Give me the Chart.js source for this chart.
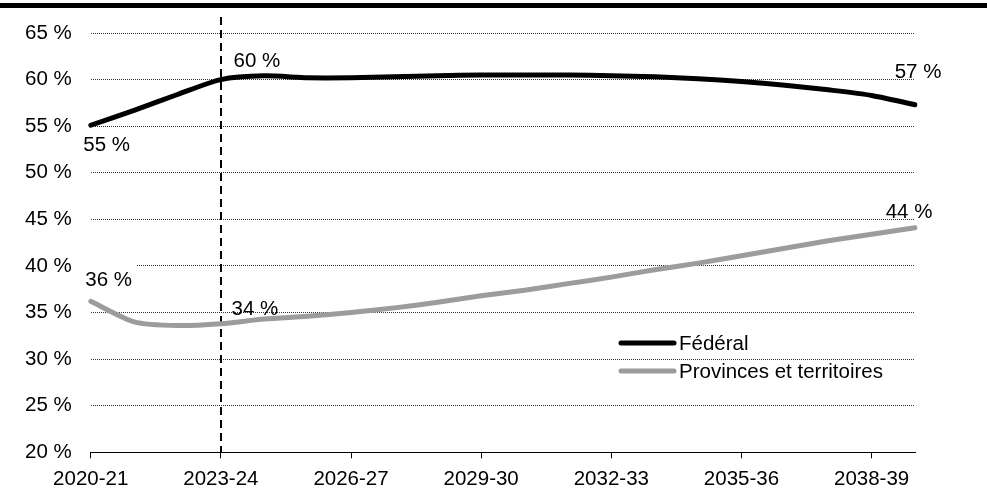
<!DOCTYPE html>
<html>
<head>
<meta charset="utf-8">
<script src="https://cdn.jsdelivr.net/npm/chart.js@4.4.0/dist/chart.umd.min.js"></script>
<style>
  html, body { margin: 0; padding: 0; background: #fff; }
  #wrap { width: 987px; height: 495px; position: relative; }
</style>
</head>
<body>
<div id="wrap"><canvas id="myChart"></canvas></div>
<script>
// Données (en %)
var annees = ["2020-21", "2021-22", "2022-23", "2023-24", "2024-25", "2025-26", "2026-27",
  "2027-28", "2028-29", "2029-30", "2030-31", "2031-32", "2032-33", "2033-34", "2034-35",
  "2035-36", "2036-37", "2037-38", "2038-39", "2039-40"];
var federal = [55.1, 56.7, 58.4, 60.0, 60.4, 60.2, 60.2, 60.3, 60.4, 60.5,
  60.5, 60.5, 60.4, 60.3, 60.1, 59.8, 59.4, 58.9, 58.3, 57.3];
var provinces = [36.2, 34.0, 33.6, 33.8, 34.3, 34.6, 35.0, 35.5, 36.1, 36.8,
  37.4, 38.1, 38.8, 39.6, 40.3, 41.1, 41.9, 42.7, 43.4, 44.1];
var nomsSeries = ["Fédéral", "Provinces et territoires"];
var axeY = { min: 20, max: 65, pas: 5 };
var anneeProjection = "2023-24";

var police = '"Liberation Sans", Arial, sans-serif';
var taille = 20.5;

// Étiquettes de valeurs (série, index) et leur décalage
var etiquettes = [
  { serie: 0, index: 0, dx: 16, dy: 19 },
  { serie: 0, index: 3, dx: 36, dy: -20 },
  { serie: 0, index: 19, dx: 3, dy: -34 },
  { serie: 1, index: 0, dx: 18, dy: -22, fond: true },
  { serie: 1, index: 3, dx: 34, dy: -16 },
  { serie: 1, index: 19, dx: -6, dy: -17 }
];

var decor = {
  id: "decor",
  beforeDraw: function (chart) {
    var ctx = chart.ctx;
    ctx.save();
    ctx.fillStyle = "#000";
    ctx.fillRect(0, 3, chart.width, 5);
    ctx.restore();
  },
  beforeDatasetsDraw: function (chart) {
    var ctx = chart.ctx;
    var x = Math.round(chart.scales.x.getPixelForValue(annees.indexOf(anneeProjection)));
    ctx.save();
    ctx.strokeStyle = "#000";
    ctx.lineWidth = 2;
    ctx.setLineDash([8, 5]);
    ctx.beginPath();
    ctx.moveTo(x, 17);
    ctx.lineTo(x, chart.chartArea.bottom);
    ctx.stroke();
    ctx.restore();
  },
  afterDatasetsDraw: function (chart) {
    var ctx = chart.ctx;
    ctx.save();
    ctx.font = taille + "px " + police;
    ctx.textAlign = "center";
    ctx.textBaseline = "alphabetic";
    etiquettes.forEach(function (e) {
      var pt = chart.getDatasetMeta(e.serie).data[e.index];
      var v = chart.data.datasets[e.serie].data[e.index];
      var txt = Math.round(v) + " %";
      var cx = pt.x + e.dx, cy = pt.y + e.dy;
      if (e.fond) {
        var w = ctx.measureText(txt).width;
        ctx.fillStyle = "#fff";
        ctx.fillRect(cx - w / 2 - 4, cy - 15, w + 8, 28);
      }
      ctx.fillStyle = "#000";
      ctx.fillText(txt, cx, cy + 7);
    });

    // légende
    var lx = 621, ly = 343;
    ctx.textAlign = "left";
    chart.data.datasets.forEach(function (ds, i) {
      var y = ly + i * 28;
      ctx.strokeStyle = ds.borderColor;
      ctx.lineWidth = 5;
      ctx.lineCap = "round";
      ctx.beginPath();
      ctx.moveTo(lx, y);
      ctx.lineTo(lx + 53, y);
      ctx.stroke();
      ctx.fillStyle = "#000";
      ctx.fillText(ds.label, lx + 58, y + 7);
    });
    ctx.restore();
  }
};

var ctx = document.getElementById("myChart").getContext("2d");
var myChart = new Chart(ctx, {
  type: "line",
  data: {
    labels: annees,
    datasets: [
      {
        label: nomsSeries[0],
        data: federal,
        borderColor: "#000000",
        borderWidth: 5,
        pointRadius: 0,
        tension: 0.25,
        borderCapStyle: "round"
      },
      {
        label: nomsSeries[1],
        data: provinces,
        borderColor: "#9c9c9c",
        borderWidth: 5,
        pointRadius: 0,
        tension: 0.25,
        borderCapStyle: "round"
      }
    ]
  },
  options: {
    responsive: true,
    maintainAspectRatio: false,
    animation: false,
    layout: { padding: { top: 33, right: 72, bottom: 0, left: 0 } },
    plugins: {
      legend: { display: false },
      tooltip: { enabled: false }
    },
    scales: {
      x: {
        afterFit: function (s) { s.height = 42.7; },
        grid: {
          drawOnChartArea: false,
          drawTicks: true,
          tickLength: 6,
          color: function (c) { return c.index % 3 === 0 ? "#000" : "rgba(0,0,0,0)"; }
        },
        border: { display: true, color: "#000", width: 1 },
        ticks: {
          autoSkip: false,
          maxRotation: 0,
          padding: 9,
          color: "#000",
          font: { family: police, size: taille },
          callback: function (val, i) { return i % 3 === 0 ? this.getLabelForValue(val) : ""; }
        }
      },
      y: {
        min: axeY.min,
        max: axeY.max,
        afterFit: function (s) { s.width = 90.7; },
        grid: { drawTicks: false, color: "#333", lineWidth: 1 },
        border: { display: false, dash: [1, 1] },
        ticks: {
          stepSize: axeY.pas,
          padding: 19,
          color: "#000",
          font: { family: police, size: taille },
          callback: function (v) { return v + " %"; }
        }
      }
    }
  },
  plugins: [decor]
});
</script>
</body>
</html>
